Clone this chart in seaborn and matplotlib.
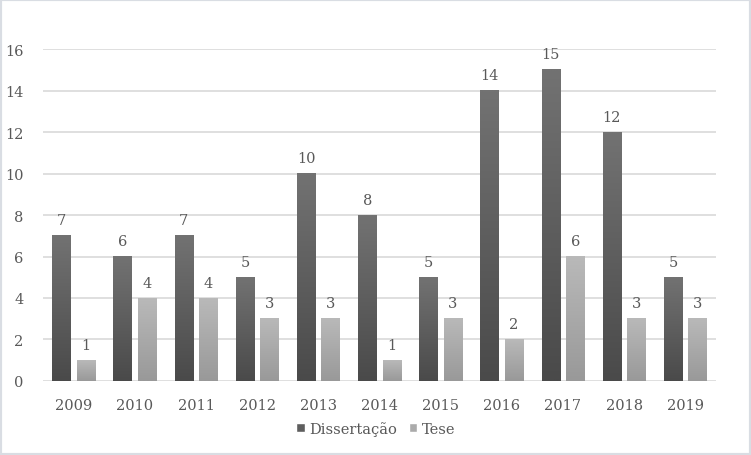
import pandas as pd
import numpy as np
import seaborn as sns
import matplotlib
matplotlib.use('Agg')
import matplotlib.pyplot as plt
from matplotlib.patches import Rectangle, Patch

# Dados
anos = ['2009', '2010', '2011', '2012', '2013', '2014', '2015', '2016', '2017', '2018', '2019']
dissertacao = [7, 6, 7, 5, 10, 8, 5, 14, 15, 12, 5]
tese = [1, 4, 4, 3, 3, 1, 3, 2, 6, 3, 3]
tipos = ['Dissertação', 'Tese']

df = pd.DataFrame({
    'ano': anos * 2,
    'valor': dissertacao + tese,
    'tipo': [tipos[0]] * len(anos) + [tipos[1]] * len(anos),
})

sns.set_style('white')
plt.rcParams['font.family'] = ['DejaVu Serif']
txt = '#595959'

fig = plt.figure(figsize=(7.51, 4.56), dpi=100)
ax = fig.add_axes([0.0573, 0.1623, 0.896, 0.728])

cores = {'Dissertação': '#5e5e5e', 'Tese': '#ababab'}
sns.barplot(data=df, x='ano', y='valor', hue='tipo', palette=cores,
            width=0.8, gap=0.25, ax=ax, legend=False, zorder=2)

# gradiente vertical nas barras
grad = {'Dissertação': ('#727272', '#4a4a4a'), 'Tese': ('#b9b9b9', '#999999')}
for cont, tipo in zip(ax.containers, tipos):
    c_top, c_bot = [np.array(matplotlib.colors.to_rgb(c)) for c in grad[tipo]]
    t = np.linspace(0, 1, 64)[:, None]
    img = (c_top * (1 - t) + c_bot * t)[:, None, :]
    for bar in cont:
        x0, w, h = bar.get_x(), bar.get_width(), bar.get_height()
        ax.imshow(img, extent=(x0, x0 + w, 0, h), aspect='auto', zorder=3,
                  interpolation='bilinear')
        bar.set_visible(False)
    ax.bar_label(cont, padding=6, color=txt, fontsize=10.5)

ax.set_xlim(-0.5, len(anos) - 0.5)
ax.set_ylim(0, 16)
ax.set_yticks(range(0, 17, 2))
ax.grid(axis='y', color='#d9d9d9', linewidth=1.2, zorder=0)
ax.set_axisbelow(True)
for s in ax.spines.values():
    s.set_visible(False)
ax.tick_params(axis='both', length=0, labelsize=10.5, labelcolor=txt)
ax.tick_params(axis='x', pad=12)
ax.tick_params(axis='y', pad=14)
ax.set_xlabel('')
ax.set_ylabel('')

handles = [Patch(facecolor=cores[t], label=t) for t in tipos]
fig.legend(handles=handles, loc='center', bbox_to_anchor=(0.5, 0.058), ncol=2,
           frameon=False, fontsize=10.5, labelcolor=txt, handlelength=0.6,
           handleheight=0.6, handletextpad=0.3, columnspacing=0.8)

fig.patches.append(Rectangle((0, 0), 1, 1, transform=fig.transFigure,
                             fill=False, edgecolor='#d9dde3', linewidth=3))

plt.savefig('out.png', dpi=100)
plt.close()
